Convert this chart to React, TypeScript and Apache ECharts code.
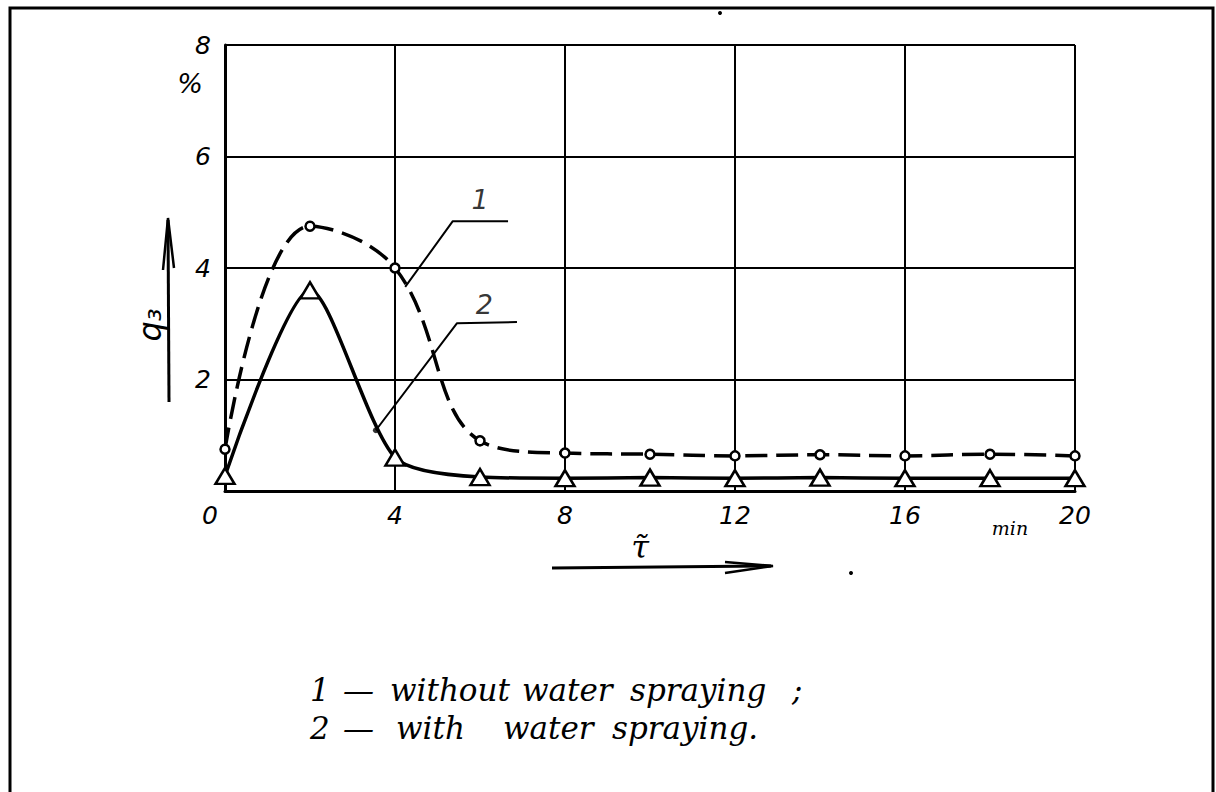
import React, { useEffect, useRef } from "react";
import * as echarts from "echarts";

// ---- data ----
const TIME_MIN = [0, 2, 4, 6, 8, 10, 12, 14, 16, 18, 20];
const WITHOUT_SPRAY = [0.75, 4.75, 4.0, 0.9, 0.68, 0.66, 0.63, 0.65, 0.63, 0.66, 0.63];
const WITH_SPRAY = [0.27, 3.6, 0.6, 0.25, 0.23, 0.24, 0.23, 0.24, 0.23, 0.23, 0.23];
const X_TICKS = [0, 4, 8, 12, 16, 20];
const Y_TICKS = [0, 2, 4, 6, 8];
// leader lines (data coordinates) for curve labels
const LEADER_1 = [[4.24, 3.66], [5.36, 4.84], [6.66, 4.84]];
const LEADER_2 = [[3.55, 1.09], [5.46, 3.01], [6.87, 3.03]];
const LEADER_LABELS = [[6.0, 5.22, "1"], [6.1, 3.35, "2"]];
const LEGEND_LINE_1 = ["1", "—", "without", "water", "spraying", ";"];
const LEGEND_LINE_2 = ["2", "—", "with", "water", "spraying."];

const FONT = "DejaVu Sans";
const SERIF = "DejaVu Serif";

export default function App() {
  const ref = useRef<HTMLDivElement>(null);
  useEffect(() => {
    if (!ref.current) return;
    const chart = echarts.init(ref.current, null, { renderer: "svg" });
    const wordX1 = [310, 343, 390, 522, 630, 792];
    const wordX2 = [310, 343, 396, 503, 612];
    const legendWords = [
      ...LEGEND_LINE_1.map((w, i) => ({
        type: "text",
        x: wordX1[i],
        y: 690,
        style: { text: w, fill: "#000", font: `italic 31px "${SERIF}"`, align: "left", verticalAlign: "middle" },
      })),
      ...LEGEND_LINE_2.map((w, i) => ({
        type: "text",
        x: wordX2[i],
        y: 728,
        style: { text: w, fill: "#000", font: `italic 31px "${SERIF}"`, align: "left", verticalAlign: "middle" },
      })),
    ];
    chart.setOption({
      animation: false,
      backgroundColor: "#fff",
      grid: { left: 225, top: 45, right: 141, bottom: 301, containLabel: false },
      xAxis: {
        type: "value",
        min: X_TICKS[0],
        max: X_TICKS[X_TICKS.length - 1],
        interval: 4,
        axisLine: { show: true, lineStyle: { color: "#000", width: 3 } },
        axisTick: { show: false },
        splitLine: { show: true, lineStyle: { color: "#000", width: 2 } },
        axisLabel: {
          color: "#000",
          fontFamily: FONT,
          fontStyle: "italic",
          fontSize: 25,
          margin: 12,
          formatter: (v: number) => (v === 0 ? "{z|0}" : "{n|" + v + "}"),
          rich: {
            z: { color: "#000", fontFamily: FONT, fontStyle: "italic", fontSize: 25, padding: [0, 30, 0, 0] },
            n: { color: "#000", fontFamily: FONT, fontStyle: "italic", fontSize: 25 },
          },
        },
      },
      yAxis: {
        type: "value",
        min: Y_TICKS[0],
        max: Y_TICKS[Y_TICKS.length - 1],
        interval: 2,
        axisLine: { show: true, lineStyle: { color: "#000", width: 3 } },
        axisTick: { show: false },
        splitLine: { show: true, lineStyle: { color: "#000", width: 2 } },
        axisLabel: {
          color: "#000",
          fontFamily: FONT,
          fontStyle: "italic",
          fontSize: 25,
          margin: 14,
          formatter: (v: number) => (v === 0 ? "" : "{n|" + v + "}"),
          rich: {
            n: { color: "#000", fontFamily: FONT, fontStyle: "italic", fontSize: 25 },
          },
        },
      },
      series: [
        {
          type: "line",
          name: "1",
          data: TIME_MIN.map((t, i) => [t, WITHOUT_SPRAY[i]]),
          smooth: 0.4,
          symbol: "circle",
          symbolSize: 9,
          itemStyle: { color: "#fff", borderColor: "#000", borderWidth: 2.5 },
          lineStyle: { color: "#000", width: 3.5, type: [22, 9] },
          z: 3,
        },
        {
          type: "line",
          name: "2",
          data: TIME_MIN.map((t, i) => [t, WITH_SPRAY[i]]),
          smooth: 0.25,
          symbol: "triangle",
          symbolSize: [19, 16],
          itemStyle: { color: "#fff", borderColor: "#000", borderWidth: 2.5 },
          lineStyle: { color: "#000", width: 3.5 },
          z: 3,
        },
        {
          type: "line",
          data: LEADER_1,
          symbol: "none",
          silent: true,
          lineStyle: { color: "#000", width: 2 },
          z: 4,
        },
        {
          type: "line",
          data: LEADER_2,
          symbol: "none",
          silent: true,
          lineStyle: { color: "#000", width: 2 },
          z: 4,
        },
        {
          type: "scatter",
          data: LEADER_LABELS,
          symbolSize: 0,
          silent: true,
          label: {
            show: true,
            position: "inside",
            formatter: (p: any) => p.data[2],
            color: "#000",
            fontFamily: FONT,
            fontStyle: "italic",
            fontSize: 27,
          },
          z: 5,
        },
        {
          type: "scatter",
          data: [[3.55, 1.09]],
          symbolSize: 6,
          itemStyle: { color: "#000" },
          silent: true,
          z: 5,
        },
      ],
      graphic: [
        {
          type: "rect",
          shape: { x: 10, y: 8, width: 1203, height: 820 },
          style: { fill: "none", stroke: "#000", lineWidth: 3 },
          silent: true,
        },
        {
          type: "text",
          x: 190,
          y: 83,
          style: { text: "%", fill: "#000", font: `italic 27px "${FONT}"`, align: "center", verticalAlign: "middle" },
        },
        {
          type: "text",
          x: 150,
          y: 325,
          rotation: Math.PI / 2,
          style: { text: "q₃", fill: "#000", font: `italic 32px "${FONT}"`, align: "center", verticalAlign: "middle" },
        },
        {
          type: "polyline",
          shape: { points: [[169, 402], [168, 220]] },
          style: { stroke: "#000", lineWidth: 3, fill: "none" },
        },
        {
          type: "polyline",
          shape: { points: [[163, 270], [168, 218], [174, 268]] },
          style: { stroke: "#000", lineWidth: 2.5, fill: "none" },
        },
        {
          type: "text",
          x: 640,
          y: 547,
          style: { text: "τ̃", fill: "#000", font: `italic 32px "${SERIF}"`, align: "center", verticalAlign: "middle" },
        },
        {
          type: "polyline",
          shape: { points: [[552, 568], [771, 566]] },
          style: { stroke: "#000", lineWidth: 3, fill: "none" },
        },
        {
          type: "polyline",
          shape: { points: [[725, 562], [773, 566], [725, 573]] },
          style: { stroke: "#000", lineWidth: 2.5, fill: "none" },
        },
        {
          type: "text",
          x: 1010,
          y: 528,
          style: { text: "min", fill: "#000", font: `italic 19px "${SERIF}"`, align: "center", verticalAlign: "middle" },
        },
        ...legendWords,
        { type: "circle", shape: { cx: 720, cy: 13, r: 2 }, style: { fill: "#000" } },
        { type: "circle", shape: { cx: 851, cy: 573, r: 2 }, style: { fill: "#000" } },
      ],
    });
    return () => chart.dispose();
  }, []);
  return (
    <div
      ref={ref}
      style={{ position: "fixed", left: 0, top: 0, width: 1216, height: 792 }}
    />
  );
}
